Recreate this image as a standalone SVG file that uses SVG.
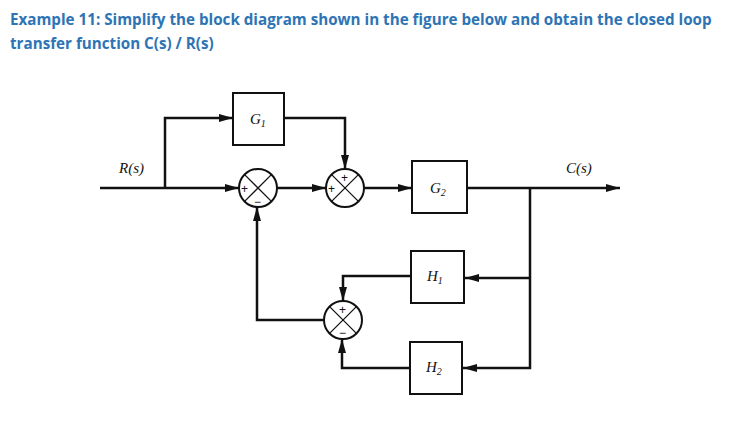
<svg xmlns="http://www.w3.org/2000/svg" width="753" height="422" viewBox="0 0 753 422">
<style>
.t{font-family:"Open Sans","Liberation Sans",sans-serif;font-weight:bold;font-size:15.2px;fill:#2e74b5}
.w{stroke:#111;stroke-width:2.5;fill:none}
.x{stroke:#111;stroke-width:1.3;fill:none}
.b{stroke:#111;stroke-width:2;fill:#fff}
.l{font-family:"Liberation Serif",serif;font-style:italic;font-size:15px;fill:#111}
.s{font-family:"Liberation Sans",sans-serif;font-size:12px;fill:#111}
</style>
<defs><marker id="a" markerWidth="14" markerHeight="8" refX="14" refY="4" orient="auto" markerUnits="userSpaceOnUse"><path d="M0,0 L14,4 L0,8 Z" fill="#111"/></marker></defs>
<rect width="753" height="422" fill="#fff"/>
<text class="t" x="10" y="25">Example 11:  Simplify the block diagram shown in the figure below and obtain the closed loop</text>
<text class="t" x="10" y="49">transfer function C(s) / R(s)</text>
<g id="connectors" class="w">
<path d="M100,188 H239" marker-end="url(#a)"/>
<path d="M165,188 V118 H233" marker-end="url(#a)"/>
<path d="M284,118 H345 V169" marker-end="url(#a)"/>
<path d="M277,188 H326" marker-end="url(#a)"/>
<path d="M364,188 H412" marker-end="url(#a)"/>
<path d="M467,188 H620" marker-end="url(#a)"/>
<path d="M530,188 V368 H463" marker-end="url(#a)"/>
<path d="M530,278 H465" marker-end="url(#a)"/>
<path d="M411,276 H343 V301" marker-end="url(#a)"/>
<path d="M410,368 H342 V339" marker-end="url(#a)"/>
<path d="M324,320 H257 V207" marker-end="url(#a)"/>
</g>
<g id="G1"><rect class="b" x="233" y="93" width="51" height="52"/><text class="l" x="250" y="124">G<tspan font-size="10" dy="3">1</tspan></text></g>
<g id="G2"><rect class="b" x="412" y="161" width="55" height="52"/><text class="l" x="430" y="193">G<tspan font-size="10" dy="3">2</tspan></text></g>
<g id="H1"><rect class="b" x="411" y="251" width="53" height="52"/><text class="l" x="427" y="281">H<tspan font-size="10" dy="3">1</tspan></text></g>
<g id="H2"><rect class="b" x="410" y="342" width="52" height="52"/><text class="l" x="426" y="372">H<tspan font-size="10" dy="3">2</tspan></text></g>
<g id="S1"><circle class="b" cx="258" cy="188" r="19"/><path class="x" d="M244.6,174.6 L271.4,201.4 M271.4,174.6 L244.6,201.4"/><text class="s" x="241" y="193">+</text><text class="s" x="254" y="206">−</text></g>
<g id="S2"><circle class="b" cx="345" cy="188" r="19"/><path class="x" d="M331.6,174.6 L358.4,201.4 M358.4,174.6 L331.6,201.4"/><text class="s" x="328" y="193">+</text><text class="s" x="341" y="182">+</text></g>
<g id="S3"><circle class="b" cx="343" cy="320" r="19"/><path class="x" d="M329.6,306.6 L356.4,333.4 M356.4,306.6 L329.6,333.4"/><text class="s" x="339" y="314">+</text><text class="s" x="339" y="337">−</text></g>
<text class="l" x="119" y="173">R(s)</text>
<text class="l" x="566" y="173">C(s)</text>
</svg>
